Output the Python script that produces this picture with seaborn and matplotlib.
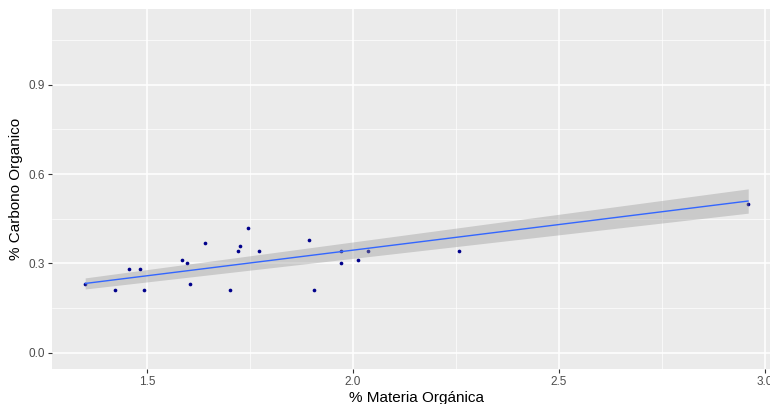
"""Scatter of % organic matter vs % organic carbon with a through-origin linear fit, ggplot-grey look."""
import matplotlib
matplotlib.use('Agg')
import matplotlib.pyplot as plt
import numpy as np
import pandas as pd
import seaborn as sns

materia_organica = [1.350, 1.423, 1.456, 1.483, 1.493, 1.585, 1.598, 1.604, 1.641, 1.701,
                    1.720, 1.725, 1.745, 1.771, 1.893, 1.906, 1.972, 1.972, 2.013, 2.037,
                    2.258, 2.959]
carbono_organico = [0.23, 0.21, 0.28, 0.28, 0.21, 0.31, 0.30, 0.23, 0.37, 0.21,
                    0.34, 0.36, 0.42, 0.34, 0.38, 0.21, 0.34, 0.30, 0.31, 0.34,
                    0.34, 0.50]
x_ticks = [1.5, 2.0, 2.5, 3.0]
y_ticks = [0.0, 0.3, 0.6, 0.9]

df = pd.DataFrame({'mo': materia_organica, 'co': carbono_organico})

# lm(co ~ 0 + mo) with 95% confidence band, like geom_smooth(method='lm', formula=y ~ x - 1)
x = df['mo'].to_numpy()
y = df['co'].to_numpy()
sxx = np.sum(x ** 2)
slope = np.sum(x * y) / sxx
resid_sd = np.sqrt(np.sum((y - slope * x) ** 2) / (len(x) - 1))
T_CRIT = 2.0796  # t(0.975, df=21)
grid = np.linspace(x.min(), x.max(), 80)
fit = pd.DataFrame({'mo': grid, 'co': slope * grid})
half = T_CRIT * resid_sd * np.abs(grid) / np.sqrt(sxx)

sns.set_theme(style='darkgrid', rc={
    'axes.facecolor': '#EBEBEB',
    'grid.color': 'white',
    'axes.edgecolor': 'none',
})
plt.rcParams['font.family'] = ['Liberation Sans', 'DejaVu Sans']

fig = plt.figure(figsize=(7.7, 4.04), dpi=100)
ax = fig.add_axes([52 / 770, 35 / 404, 729.6 / 770, 360 / 404])

sns.scatterplot(data=df, x='mo', y='co', ax=ax, s=7, color='#00008B', linewidth=0, zorder=2)
ax.fill_between(fit['mo'], fit['co'] - half, fit['co'] + half,
                color='#999999', alpha=0.4, linewidth=0, zorder=3)
sns.lineplot(data=fit, x='mo', y='co', ax=ax, color='#3366FF', linewidth=1.0, zorder=4)

ax.set_xlim(1.2695, 3.04)
ax.set_ylim(-0.055, 1.155)
ax.set_xticks(x_ticks)
ax.set_xticklabels([f'{v:.1f}' for v in x_ticks])
ax.set_yticks(y_ticks)
ax.set_yticklabels([f'{v:.1f}' for v in y_ticks])
ax.set_xticks([1.75, 2.25, 2.75], minor=True)
ax.set_yticks([0.15, 0.45, 0.75, 1.05], minor=True)
ax.grid(which='major', color='white', linewidth=1.1)
ax.grid(which='minor', color='white', linewidth=0.5)
ax.set_axisbelow(True)
ax.tick_params(which='major', length=3, width=0.8, color='#333333', labelsize=8.5,
               labelcolor='#4D4D4D', pad=2, bottom=True, left=True)
ax.tick_params(which='minor', length=0)
for s in ax.spines.values():
    s.set_visible(False)

ax.set_xlabel('% Materia Orgánica', fontsize=11, color='black', labelpad=2)
ax.set_ylabel('% Carbono Organico', fontsize=11, color='black', labelpad=4)

fig.savefig('out.png', dpi=100)
